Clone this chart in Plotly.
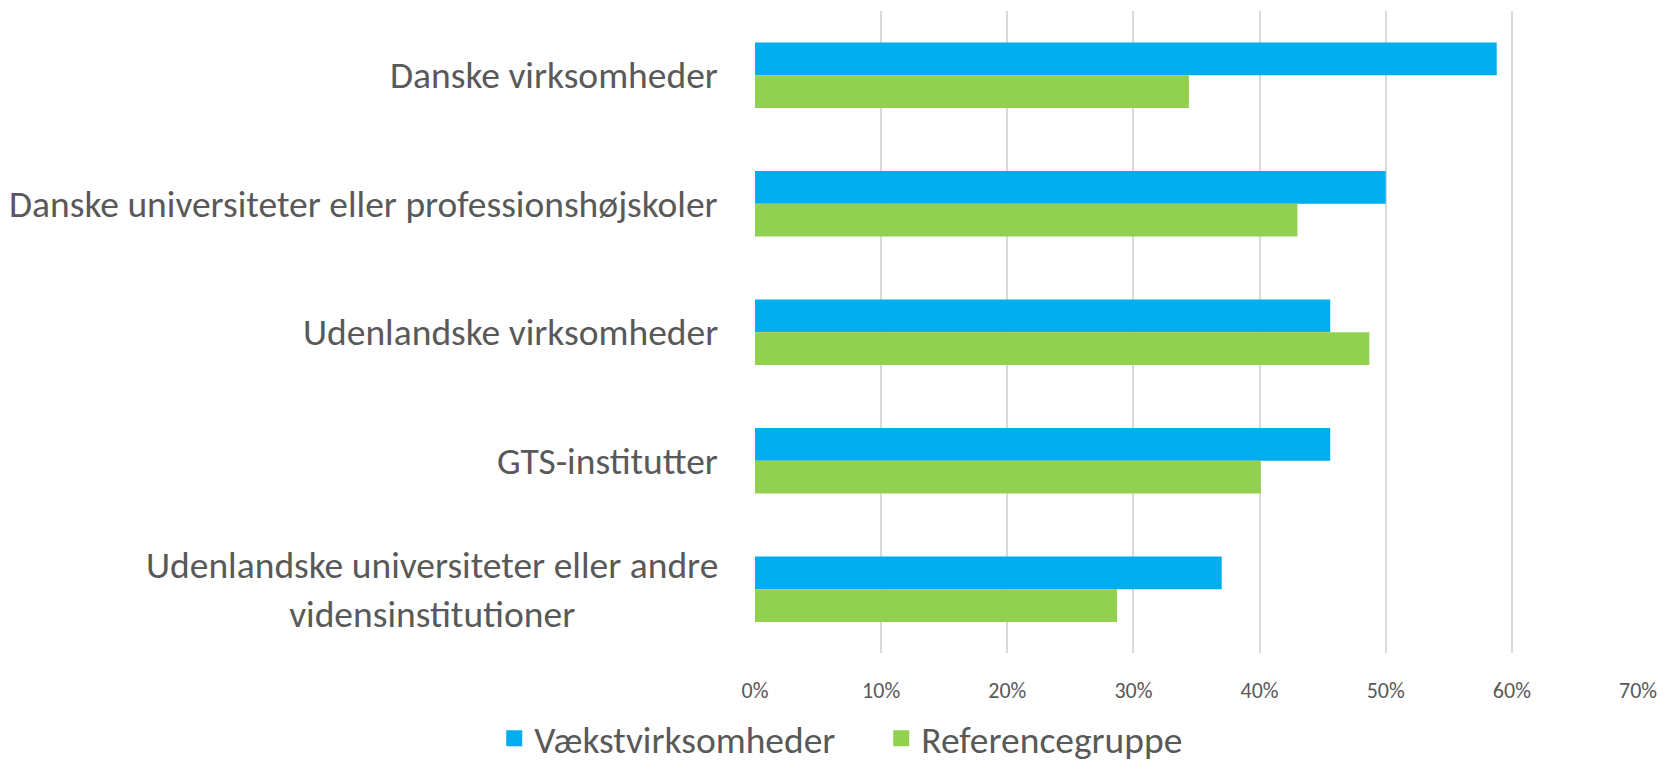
import plotly.graph_objects as go

categories = [
    "Danske virksomheder",
    "Danske universiteter eller professionshøjskoler",
    "Udenlandske virksomheder",
    "GTS-institutter",
    "Udenlandske universiteter eller andre<br>vidensinstitutioner",
]
vaekst = [0.588, 0.500, 0.456, 0.456, 0.370]
reference = [0.344, 0.430, 0.487, 0.401, 0.287]
series_names = ["Vækstvirksomheder", "Referencegruppe"]
series_colors = ["#00ADEF", "#92D050"]
x_ticks = [0, 0.1, 0.2, 0.3, 0.4, 0.5, 0.6, 0.7]

FONT = "Carlito, Lato, sans-serif"
TXT = "#595959"

fig = go.Figure()
for name, vals, col in zip(series_names, [vaekst, reference], series_colors):
    fig.add_trace(go.Bar(y=categories, x=vals, orientation="h", name=name, showlegend=False,
                         legendgroup=name, marker=dict(color=col, line=dict(width=0))))
# legend entries with larger square symbols
for name, col in zip(series_names, series_colors):
    fig.add_trace(go.Scatter(x=[None], y=[None], mode="markers", name=name, legendgroup=name,
                             marker=dict(symbol="square", size=18, color=col, line=dict(width=0))))

for c in categories:
    fig.add_annotation(x=0, y=c, xref="paper", yref="y", text=c, showarrow=False,
                       xanchor="right", yanchor="middle", align="center", xshift=-35,
                       font=dict(family=FONT, size=37.5, color=TXT))

fig.update_layout(
    width=1657, height=753,
    margin=dict(l=747, r=27, t=3, b=105),
    paper_bgcolor="white", plot_bgcolor="white",
    barmode="group", bargap=0.49, bargroupgap=0,
    font=dict(family=FONT, color=TXT),
    showlegend=True,
    legend=dict(orientation="h", xref="container", yref="container", x=0.527, y=0.03,
                xanchor="center", yanchor="middle", font=dict(family=FONT, size=37.5, color=TXT),
                itemwidth=30, entrywidth=342, tracegroupgap=0, traceorder="normal"),
    xaxis=dict(range=[0, 0.7], tickvals=x_ticks, tickformat=".0%", showgrid=True,
               gridcolor="#D9D9D9", gridwidth=1.5, zeroline=False, showline=False,
               ticklabelstandoff=22, tickfont=dict(family=FONT, size=22, color=TXT)),
    yaxis=dict(autorange="reversed", showticklabels=False, showgrid=False, zeroline=False,
               showline=False, type="category"),
)

fig.write_html("out.html")
